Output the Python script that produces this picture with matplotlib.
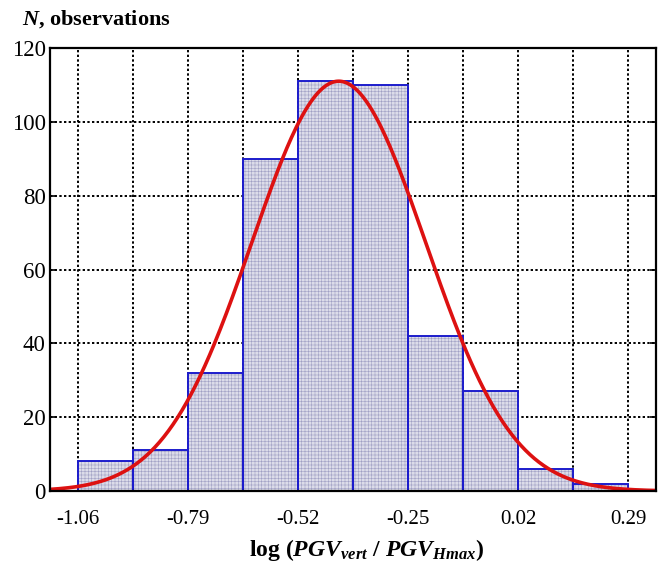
import numpy as np
import matplotlib
matplotlib.use("Agg")
import matplotlib.pyplot as plt

# Data
bin_edges = [-1.06, -0.925, -0.79, -0.655, -0.52, -0.385, -0.25, -0.115, 0.02, 0.155, 0.29]
counts = [8, 11, 32, 90, 111, 110, 42, 27, 6, 2]
tick_labels = ["-1.06", "-0.79", "-0.52", "-0.25", "0.02", "0.29"]
fit_mean = -0.42
fit_sigma = 0.213

plt.rcParams['font.family'] = ['Liberation Serif', 'DejaVu Serif']
plt.rcParams['hatch.linewidth'] = 0.4
plt.rcParams['mathtext.fontset'] = 'custom'
plt.rcParams['mathtext.rm'] = 'Liberation Serif'
plt.rcParams['mathtext.it'] = 'Liberation Serif:italic'
plt.rcParams['mathtext.bf'] = 'Liberation Serif:bold'
plt.rcParams['mathtext.bfit'] = 'Liberation Serif:italic:bold'

fig = plt.figure(figsize=(6.58, 5.64), dpi=100)
ax = fig.add_axes([0.076, 0.1294, 0.921, 0.7855])

edges = np.array(bin_edges)
widths = np.diff(edges)
lefts = edges[:-1]

# hatched fill
ax.bar(lefts, counts, width=widths, align='edge', facecolor='#dcdce9',
       edgecolor='#a0a0c4', hatch='+++++', linewidth=0, zorder=2)
# blue outlines
ax.bar(lefts, counts, width=widths, align='edge', facecolor='none',
       edgecolor='#1c1ccc', linewidth=1.4, zorder=3)

# normal fit curve
n_total = sum(counts)
bw = widths[0]
xs = np.linspace(-1.1275, 0.3575, 400)
ys = n_total * bw / (fit_sigma * np.sqrt(2 * np.pi)) * np.exp(-0.5 * ((xs - fit_mean) / fit_sigma) ** 2)
ax.plot(xs, ys, color='#dd1111', linewidth=2.6, zorder=4, solid_capstyle='round')

ax.set_xlim(-1.1275, 0.3575)
ax.set_ylim(0, 120)

ax.set_xticks([float(t) for t in tick_labels])
ax.set_xticklabels(tick_labels, fontsize=15)
ax.set_xticks(edges, minor=True)
ax.set_yticks(np.arange(0, 121, 20))
ax.set_yticklabels([str(v) for v in range(0, 121, 20)], fontsize=16.5)

ax.grid(True, which='both', axis='x', linestyle=(0, (1.2, 1.2)), color='black', linewidth=1.4, zorder=1)
ax.grid(True, which='major', axis='y', linestyle=(0, (1.2, 1.2)), color='black', linewidth=1.4, zorder=1)
ax.set_axisbelow(True)

ax.tick_params(axis='both', which='both', direction='in', length=4, width=1.2,
               top=False, right=True, colors='black')
ax.tick_params(axis='x', which='major', pad=14)
ax.tick_params(axis='y', which='major', pad=3)

for s in ax.spines.values():
    s.set_linewidth(1.6)
    s.set_color('black')
    s.set_zorder(5)

fig.text(0.034, 0.966, r"$\mathbfit{N}$" + ", observations", fontsize=16, fontweight='bold',
         ha='left', va='center')
fig.text(0.557, 0.024, r"log ($\mathbfit{PGV}_{\mathbfit{vert}}$ / $\mathbfit{PGV}_{\mathbfit{Hmax}}$)",
         fontsize=17, fontweight='bold', ha='center', va='center')

fig.savefig("out.png", dpi=100)
